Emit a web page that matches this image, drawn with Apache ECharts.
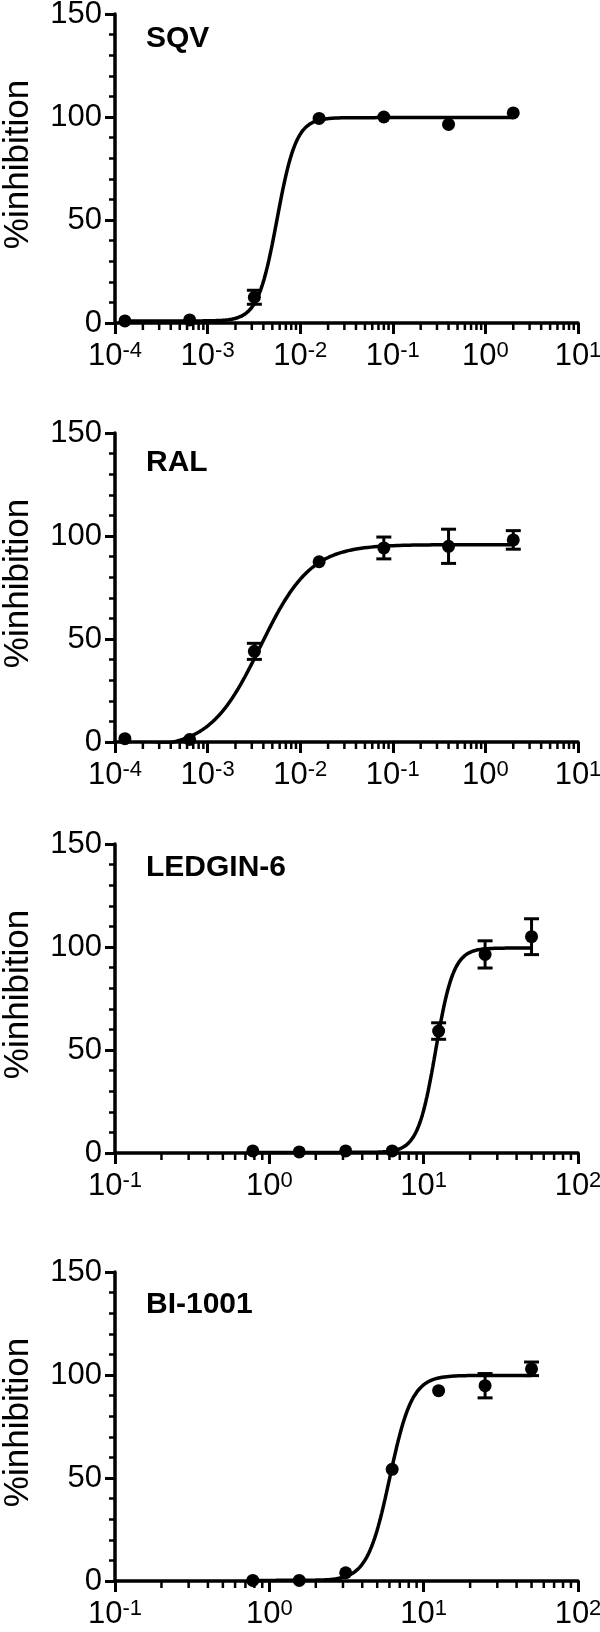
<!DOCTYPE html>
<html><head><meta charset="utf-8">
<script src="https://cdn.jsdelivr.net/npm/echarts@6/dist/echarts.min.js"></script>
<style>html,body{margin:0;padding:0;background:#fff}#c{width:600px;height:1632px}</style>
</head><body><div id="c"></div>
<script>
// ---- data ----
const panelNames = ['SQV', 'RAL', 'LEDGIN-6', 'BI-1001'];
const concA = [0.000128, 0.00064, 0.0032, 0.016, 0.08, 0.4, 2];
const concB = [0.78125, 1.5625, 3.125, 6.25, 12.5, 25, 50];
const sqvMean = [1, 1.5, 12.5, 99.3, 100, 96.4, 102];
const sqvSD   = [0, 0, 3.4, 0, 0, 0, 0];
const ralMean = [1.6, 1.2, 44, 87.5, 94.2, 95, 98.1];
const ralSD   = [0, 0, 3.9, 0, 5.3, 8.3, 4.5];
const ledMean = [1, 0.5, 1, 1, 59.2, 96.4, 105];
const ledSD   = [0, 0, 0, 0, 4, 6.6, 8.7];
const biMean  = [0.3, 0.3, 4, 54.2, 92.4, 94.8, 103];
const biSD    = [0, 0, 0, 0, 0, 5.9, 3.3];
// fitted dose-response parameters: [bottom, top, logEC50, hill slope]
const sqvFit = [1, 99.7, -2.25, 4.2];
const ralFit = [-3, 95.8, -2.43, 1.6];
const ledFit = [0.3, 99.5, 1.078, 7.5];
const biFit  = [0.3, 99.8, 0.78, 6];
const xRangeA = [1e-4, 10];
const xRangeB = [0.1, 100];
const yRange = [0, 150];
const yStep = 50;

// ---- layout ----
const FONT = 'Liberation Sans, Arial, Helvetica, sans-serif';
const gridTops = [14, 433, 844, 1272];
const gridH = 309;
const titleTops = [24, 448, 853, 1290];

const panels = [
  {x: concA, m: sqvMean, sd: sqvSD, fit: sqvFit, range: xRangeA},
  {x: concA, m: ralMean, sd: ralSD, fit: ralFit, range: xRangeA},
  {x: concB, m: ledMean, sd: ledSD, fit: ledFit, range: xRangeB},
  {x: concB, m: biMean,  sd: biSD,  fit: biFit,  range: xRangeB}
];

function fitCurve(fit, x0, x1) {
  const [b, t, l50, h] = fit;
  const out = [];
  const a = Math.log10(x0), z = Math.log10(x1), n = 240;
  for (let i = 0; i <= n; i++) {
    const lx = a + (z - a) * i / n;
    out.push([Math.pow(10, lx), b + (t - b) / (1 + Math.pow(10, (l50 - lx) * h))]);
  }
  return out;
}
function minorTickValues(range) {
  const out = [];
  const k0 = Math.round(Math.log10(range[0])), k1 = Math.round(Math.log10(range[1]));
  for (let k = k0; k < k1; k++) for (let d = 2; d <= 9; d++) out.push([d * Math.pow(10, k), 0]);
  return out;
}

const grid = [], xAxis = [], yAxis = [], series = [], title = [];
panels.forEach((p, i) => {
  grid.push({left: 115, right: 22, top: gridTops[i], height: gridH, containLabel: false, outerBoundsMode: 'none'});
  title.push({text: panelNames[i], left: 146, top: titleTops[i], padding: 0,
    textStyle: {fontFamily: FONT, fontSize: 30, fontWeight: 'bold', color: '#000'}});
  xAxis.push({
    type: 'log', logBase: 10, gridIndex: i, min: p.range[0], max: p.range[1],
    axisLine: {show: true, lineStyle: {color: '#000', width: 3.5}},
    axisTick: {show: true, length: 11, lineStyle: {color: '#000', width: 3}},
    splitLine: {show: false}, minorTick: {show: false},
    axisLabel: {
      show: true, margin: 17, showMinLabel: true, showMaxLabel: true,
      formatter: v => '{b|10}{s|' + Math.round(Math.log10(v)) + '}',
      rich: {
        b: {fontFamily: FONT, fontSize: 31, color: '#000', lineHeight: 33},
        s: {fontFamily: FONT, fontSize: 22, color: '#000', lineHeight: 22, verticalAlign: 'top'}
      }
    }
  });
  yAxis.push({
    type: 'value', gridIndex: i, min: yRange[0], max: yRange[1], interval: yStep,
    axisLine: {show: true, lineStyle: {color: '#000', width: 3.5}},
    axisTick: {show: true, length: 10, lineStyle: {color: '#000', width: 3}},
    minorTick: {show: true, splitNumber: 5, length: 6, lineStyle: {color: '#000', width: 2.5}},
    splitLine: {show: false},
    axisLabel: {fontFamily: FONT, fontSize: 31, color: '#000', margin: 13},
    name: '%inhibition', nameLocation: 'middle', nameGap: 79,
    nameTextStyle: {fontFamily: FONT, fontSize: 35, color: '#000', padding: [0, 0, 0, 8]}
  });
  series.push({
    type: 'line', xAxisIndex: i, yAxisIndex: i, data: fitCurve(p.fit, p.x[0], p.x[p.x.length - 1]),
    showSymbol: false, smooth: false, clip: true, silent: true,
    lineStyle: {color: '#000', width: 3.5}, z: 3
  });
  const eb = [];
  p.x.forEach((x, j) => { if (p.sd[j] > 0) eb.push([x, p.m[j] - p.sd[j], p.m[j] + p.sd[j]]); });
  series.push({
    type: 'custom', xAxisIndex: i, yAxisIndex: i, data: eb, z: 4, silent: true,
    renderItem: (params, api) => {
      const top = api.coord([api.value(0), api.value(2)]);
      const bot = api.coord([api.value(0), api.value(1)]);
      const w = 7.5, st = {stroke: '#000', lineWidth: 3};
      return {type: 'group', children: [
        {type: 'line', shape: {x1: top[0], y1: top[1], x2: bot[0], y2: bot[1]}, style: st},
        {type: 'line', shape: {x1: top[0] - w, y1: top[1], x2: top[0] + w, y2: top[1]}, style: st},
        {type: 'line', shape: {x1: bot[0] - w, y1: bot[1], x2: bot[0] + w, y2: bot[1]}, style: st}
      ]};
    }
  });
  series.push({
    type: 'scatter', xAxisIndex: i, yAxisIndex: i, data: p.x.map((x, j) => [x, p.m[j]]),
    symbol: 'circle', symbolSize: 13, itemStyle: {color: '#000', opacity: 1}, z: 5, silent: true
  });
  series.push({
    type: 'custom', xAxisIndex: i, yAxisIndex: i, data: minorTickValues(p.range), z: 6, clip: false, silent: true,
    renderItem: (params, api) => {
      const c = api.coord([api.value(0), yRange[0]]);
      return {type: 'line', shape: {x1: c[0], y1: c[1], x2: c[0], y2: c[1] + 7}, style: {stroke: '#000', lineWidth: 2.5}};
    }
  });
});

const chart = echarts.init(document.getElementById('c'), null, {renderer: 'canvas'});
chart.setOption({animation: false, backgroundColor: '#fff', title, grid, xAxis, yAxis, series});
</script>
</body></html>
